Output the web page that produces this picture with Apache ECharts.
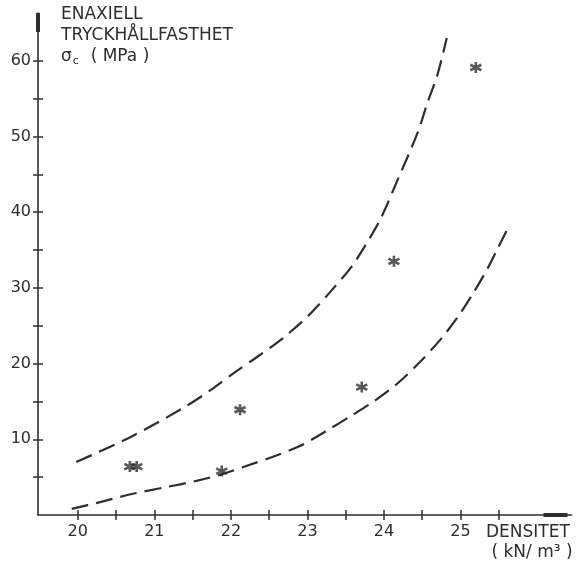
<!DOCTYPE html>
<html>
<head>
<meta charset="utf-8">
<script src="https://cdn.jsdelivr.net/npm/echarts@6/dist/echarts.min.js"></script>
<style>
  html, body { margin: 0; background: #fff; }
  #chart { width: 578px; height: 561px; }
</style>
</head>
<body>
<div id="chart"></div>
<script>
// measured points (density kN/m3, strength MPa)
const starPoints = [
  [20.68, 6.4], [20.77, 6.4], [21.88, 5.8], [22.12, 13.9],
  [23.71, 16.9], [24.13, 33.5], [25.2, 59.1]
];

const upperCurve = [
  [19.98, 7.0], [20.71, 10.4], [21.42, 14.4], [21.75, 16.6], [22.06, 18.9],
  [22.36, 21.0], [22.66, 23.2], [23.01, 26.3], [23.31, 29.6], [23.57, 32.7],
  [23.75, 35.5], [23.95, 39.0], [24.18, 44.3], [24.44, 50.5], [24.57, 54.5],
  [24.70, 58.2], [24.82, 63.0]
];

const lowerCurve = [
  [19.92, 0.8], [20.29, 1.7], [20.72, 2.8], [21.16, 3.7], [21.55, 4.5],
  [21.89, 5.4], [22.21, 6.5], [22.55, 7.7], [22.90, 9.1], [23.23, 11.0],
  [23.57, 13.1], [23.88, 15.1], [24.18, 17.4], [24.44, 19.9], [24.74, 23.2],
  [24.96, 26.1], [25.16, 29.2], [25.35, 32.5], [25.48, 35.1], [25.61, 37.7]
];

const densityTicks = [20, 20.5, 21, 21.5, 22, 22.5, 23, 23.5, 24, 24.5, 25, 25.5];
const densityLabels = [20, 21, 22, 23, 24, 25];
const strengthTicks = [5, 10, 15, 20, 25, 30, 35, 40, 45, 50, 55, 60];
const strengthLabels = [10, 20, 30, 40, 50, 60];

const ink = '#2e2e2e';
const font = 'DejaVu Sans';

const chart = echarts.init(document.getElementById('chart'));

// ticks cross the axis line: second invisible axis draws the inner half
const xBase = { type: 'value', min: 19.48, max: 26.45, position: 'bottom', splitLine: { show: false } };
const yBase = { type: 'value', min: 0, max: 66.3, position: 'left', splitLine: { show: false } };
const tickStyle = { color: ink, width: 1.5 };

const option = {
  backgroundColor: '#fff',
  animation: false,
  grid: { left: 38, right: 6.5, top: 13, bottom: 46 },
  title: [
    {
      text: 'ENAXIELL\nTRYCKHÅLLFASTHET\n{sig|σ}{sub|c}  ( MPa )',
      left: 61, top: 4, padding: 0,
      textStyle: {
        fontFamily: font, fontSize: 17, fontWeight: 'normal', color: ink, lineHeight: 21,
        rich: {
          sig: { fontFamily: font, fontSize: 17, color: ink, lineHeight: 21 },
          sub: { fontFamily: font, fontSize: 11, color: ink, verticalAlign: 'bottom', lineHeight: 16, padding: [0, 1, 0, 1] }
        }
      }
    },
    {
      text: 'DENSITET\n ( kN/ m³ )',
      left: 486, top: 523, padding: 0,
      textStyle: { fontFamily: font, fontSize: 17, fontWeight: 'normal', color: ink, lineHeight: 20 }
    }
  ],
  xAxis: [
    Object.assign({}, xBase, {
      axisLine: {
        onZero: false, lineStyle: { color: ink, width: 1.6 },
        symbol: ['none', 'rect'], symbolSize: [4, 24], symbolOffset: [0, -16]
      },
      axisTick: { length: 5, customValues: densityTicks, lineStyle: tickStyle },
      axisLabel: { customValues: densityLabels, margin: 9, fontFamily: font, fontSize: 16, color: ink }
    }),
    Object.assign({}, xBase, {
      axisLine: { show: false, onZero: false },
      axisTick: { inside: true, length: 5, customValues: densityTicks, lineStyle: tickStyle },
      axisLabel: { show: false }
    })
  ],
  yAxis: [
    Object.assign({}, yBase, {
      axisLine: {
        show: true, onZero: false, lineStyle: { color: ink, width: 1.6 },
        symbol: ['none', 'rect'], symbolSize: [4, 19], symbolOffset: [0, -9.5]
      },
      axisTick: { show: true, length: 5, customValues: strengthTicks, lineStyle: tickStyle },
      axisLabel: { customValues: strengthLabels, margin: 7, fontFamily: font, fontSize: 16, color: ink }
    }),
    Object.assign({}, yBase, {
      axisLine: { show: false, onZero: false },
      axisTick: { show: true, inside: true, length: 5, customValues: strengthTicks, lineStyle: tickStyle },
      axisLabel: { show: false }
    })
  ],
  series: [
    {
      type: 'line', data: upperCurve, smooth: 0.3, showSymbol: false, silent: true,
      lineStyle: { color: ink, width: 2.2, type: [17, 8] }
    },
    {
      type: 'line', data: lowerCurve, smooth: 0.3, showSymbol: false, silent: true,
      lineStyle: { color: ink, width: 2.2, type: [17, 8] }
    },
    {
      type: 'scatter', data: starPoints, symbolSize: 11,
      symbol: 'path://M0,-5L0,5M-4.33,-2.5L4.33,2.5M-4.33,2.5L4.33,-2.5',
      itemStyle: { color: 'transparent', borderColor: ink, borderWidth: 2.6 }
    }
  ]
};

chart.setOption(option);
</script>
</body>
</html>
